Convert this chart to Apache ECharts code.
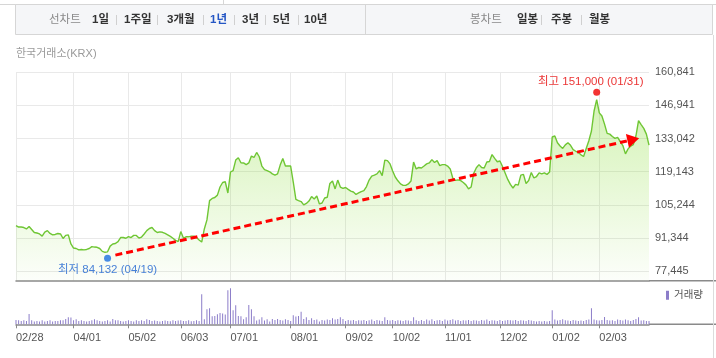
<!DOCTYPE html>
<html><head><meta charset="utf-8">
<script src="https://cdn.jsdelivr.net/npm/echarts@6.0.0/dist/echarts.min.js"></script>
<style>html,body{margin:0;padding:0;background:#fff}#c{width:716px;height:358px}</style>
</head><body><div id="c"></div>
<script>
// trading days (categories)
const d2402 = [28,29];
const d2403 = [4,5,6,7,8,11,12,13,14,15,18,19,20,21,22,25,26,27,28,29];
const d2404 = [1,2,3,4,5,8,9,11,12,15,16,17,18,19,22,23,24,25,26,29,30];
const d2405 = [2,3,7,8,9,10,13,14,16,17,20,21,22,23,24,27,28,29,30,31];
const d2406 = [3,4,5,7,10,11,12,13,14,17,18,19,20,21,24,25,26,27,28];
const d2407 = [1,2,3,4,5,8,9,10,11,12,15,16,17,18,19,22,23,24,25,26,29,30,31];
const d2408 = [1,2,5,6,7,8,9,12,13,14,16,19,20,21,22,23,26,27,28,29,30];
const d2409 = [2,3,4,5,6,9,10,11,12,13,19,20,23,24,25,26,27,30];
const d2410 = [2,4,7,8,10,11,14,15,16,17,18,21,22,23,24,25,28,29,30,31];
const d2411 = [1,4,5,6,7,8,11,12,13,14,15,18,19,20,21,22,25,26,27,28,29];
const d2412 = [2,3,4,5,6,9,10,11,12,13,16,17,18,19,20,23,24,26,27,30];
const d2501 = [2,3,6,7,8,9,10,13,14,15,16,17,20,21,22,23,24,31];
const d2502 = [3,4,5,6,7,10,11,12,13,14,17,18,19,20,21,24,25,26,27,28];

const tickDates = ['2024-02-28','2024-04-01','2024-05-02','2024-06-03','2024-07-01','2024-08-01','2024-09-02','2024-10-02','2024-11-01','2024-12-02','2025-01-02','2025-02-03'];
const yTicks = [77445, 91344, 105244, 119143, 133042, 146941, 160841];
const yMin = 73386, yMax = 160841;

const prices = [
96500,95900,95900,95700,95100,96100,94900,93600,93400,93000,
92100,93800,94400,93200,92600,92800,93200,93000,91100,92400,
92600,88800,87100,86900,86300,86500,86300,86500,86900,87700,
87500,87400,86900,85700,85300,85500,87900,88800,89000,89800,
91500,91500,91200,91900,91500,92400,92400,91300,91700,93000,
94400,95300,95700,94400,93600,93900,93700,93200,92600,92000,
91200,90300,89800,94000,91300,91800,91800,92100,92100,91500,
90500,89600,95100,98900,107000,107900,108300,109300,112700,114600,
114900,110200,119000,119600,124000,125000,122900,122800,122100,122800,
125700,125100,127200,125400,121500,120000,119600,119100,118200,117700,
118200,121900,124700,121500,121500,121500,114800,107500,107000,106600,
105200,105800,106800,108700,107700,108900,105600,106000,108100,108400,
114200,115200,111900,115600,112700,112100,112500,111700,111000,110600,
109600,110200,110800,111200,112900,115600,117300,117700,118200,119600,
117500,124000,123800,122400,119400,116900,115300,114000,113400,113400,
114000,115200,123200,120300,120900,120700,121500,122400,122800,124200,
123000,123800,121700,122100,122100,121500,120300,116400,115500,115700,
115400,114600,113600,111900,112700,118500,120800,122100,120900,120700,
123200,123400,126300,124700,123300,123600,121300,118600,115900,113800,
112300,113800,113500,117700,118000,114200,115400,118800,116500,117100,
118600,118200,118600,118000,119000,133700,134100,131300,129900,128900,
130400,131300,130200,128400,127700,127200,126200,125500,128900,132100,
136200,144600,149400,143800,142500,139100,135200,134900,133900,133100,
133500,131800,130100,126600,128700,129900,130500,134100,140600,138900,
137300,134900,130300];

const volumes = [
108,100,83,100,83,258,100,68,83,68,
100,68,83,100,68,83,83,100,100,133,
175,168,100,125,83,100,83,68,83,100,
125,100,83,68,83,100,68,133,100,100,
83,68,83,100,83,68,100,83,100,83,
125,108,83,93,83,68,83,93,83,75,
100,83,93,100,83,83,100,75,83,100,
83,750,125,375,400,200,208,250,283,268,
243,850,900,350,475,208,200,125,175,483,
375,200,93,118,175,93,125,68,133,108,
133,108,93,125,108,83,225,193,208,313,
133,175,108,150,108,118,68,108,93,118,
108,150,118,133,175,133,83,108,93,108,
83,100,93,108,83,100,118,83,108,93,
83,175,108,93,108,83,100,93,83,100,
93,83,175,100,83,108,83,118,93,125,
83,100,108,83,118,93,108,125,93,108,
83,100,93,108,83,100,93,83,108,93,
118,83,100,93,83,108,83,93,108,100,
93,108,83,100,93,83,108,93,83,68,
83,68,83,68,83,350,118,93,108,125,
100,93,83,108,93,83,93,83,108,118,
400,118,100,93,108,183,108,93,100,83,
118,108,93,118,100,83,108,133,175,93,
100,83,83];

const lowPoint = {date: '2024-04-19', value: 84132, name: '최저'};
const highPoint = {date: '2025-01-31', value: 151000, name: '최고'};
const trendStart = {date: '2024-04-24', value: 84132};
const trendEnd = {date: '2025-02-20', value: 132600};

const lineTabs = ['1일','1주일','3개월','1년','3년','5년','10년'];
const candleTabs = ['일봉','주봉','월봉'];

// build categories
const cats = [];
const pad = n => String(n).padStart(2, '0');
[['2024-02',d2402],['2024-03',d2403],['2024-04',d2404],['2024-05',d2405],['2024-06',d2406],['2024-07',d2407],['2024-08',d2408],['2024-09',d2409],['2024-10',d2410],['2024-11',d2411],['2024-12',d2412],['2025-01',d2501],['2025-02',d2502]]
  .forEach(([ym, ds]) => ds.forEach(d => cats.push(ym + '-' + pad(d))));
const tickSet = new Set(tickDates);
const showTick = (i, v) => tickSet.has(v);
const mmdd = v => v.slice(5).replace('-', '/');
const fmtNum = v => Number(v).toLocaleString('en-US');

const NUMF = '"Liberation Sans","Noto Sans CJK KR",sans-serif';
const KRF = '"Liberation Sans","Noto Sans CJK KR",sans-serif';

// top tab bar graphics
const g = [];
g.push({type:'line', shape:{x1:0,y1:4.5,x2:716,y2:4.5}, style:{stroke:'#d6d6d6',lineWidth:1}, silent:true});
g.push({type:'line', shape:{x1:223.5,y1:0,x2:223.5,y2:4.5}, style:{stroke:'#d6d6d6',lineWidth:1}, silent:true});
g.push({type:'rect', shape:{x:15.5,y:4.5,width:697,height:30}, style:{fill:'#f5f6f8',stroke:'#d6d6d6',lineWidth:1}, silent:true});
g.push({type:'line', shape:{x1:365.5,y1:4.5,x2:365.5,y2:34.5}, style:{stroke:'#d6d6d6',lineWidth:1}, silent:true});
const TY = 20;
g.push({type:'text', style:{text:'선차트', x:49, y:TY, fill:'#8a8a8a', fontSize:11.5, fontFamily:KRF, verticalAlign:'middle', align:'left'}, silent:true});
const lineTabX = [92, 124, 167, 210, 242, 273, 304];
const lineSepX = [116, 157, 203, 234, 265, 298];
lineTabs.forEach((t, i) => g.push({type:'text', style:{text:t, x:lineTabX[i], y:TY, fill: t==='1년' ? '#2456c4' : '#333', fontSize:11.5, fontWeight:'bold', fontFamily:KRF, verticalAlign:'middle', align:'left'}, silent:true}));
lineSepX.forEach(x => g.push({type:'line', shape:{x1:x+0.5,y1:TY-5,x2:x+0.5,y2:TY+5}, style:{stroke:'#d0d0d0',lineWidth:1}, silent:true}));
g.push({type:'text', style:{text:'봉차트', x:470, y:TY, fill:'#8a8a8a', fontSize:11.5, fontFamily:KRF, verticalAlign:'middle', align:'left'}, silent:true});
const candleTabX = [517, 551, 589];
const candleSepX = [541, 581];
candleTabs.forEach((t, i) => g.push({type:'text', style:{text:t, x:candleTabX[i], y:TY, fill:'#333', fontSize:11.5, fontWeight:'bold', fontFamily:KRF, verticalAlign:'middle', align:'left'}, silent:true}));
candleSepX.forEach(x => g.push({type:'line', shape:{x1:x+0.5,y1:TY-5,x2:x+0.5,y2:TY+5}, style:{stroke:'#d0d0d0',lineWidth:1}, silent:true}));
g.push({type:'text', style:{text:'한국거래소(KRX)', x:16, y:53.5, fill:'#9a9a9a', fontSize:11, fontFamily:KRF, verticalAlign:'middle', align:'left'}, silent:true});
// frame extensions
g.push({type:'line', shape:{x1:649,y1:280.7,x2:716,y2:280.7}, style:{stroke:'#8a8a8a',lineWidth:1.5}, silent:true});
g.push({type:'line', shape:{x1:649,y1:324.3,x2:716,y2:324.3}, style:{stroke:'#8a8a8a',lineWidth:1.5}, silent:true});
g.push({type:'line', shape:{x1:713.5,y1:35,x2:713.5,y2:358}, style:{stroke:'#dcdcdc',lineWidth:1}, silent:true});

const chart = echarts.init(document.getElementById('c'));
chart.setOption({
  animation: false,
  backgroundColor: '#fff',
  graphic: g,
  grid: [
    {left: 16, right: 67, top: 72.3, height: 208.4},
    {left: 16, right: 67, top: 282, height: 42.3}
  ],
  legend: {
    data: ['거래량'], left: 666, top: 290, padding: 0, icon: 'rect', itemWidth: 3, itemHeight: 9,
    textStyle: {fontSize: 10.5, color: '#555', fontFamily: KRF}, selectedMode: false
  },
  xAxis: [
    {type:'category', gridIndex:0, data:cats, boundaryGap:false,
     axisLine:{show:true, lineStyle:{color:'#8a8a8a', width:1.5}},
     axisTick:{show:false}, axisLabel:{show:false},
     splitLine:{show:true, interval:showTick, lineStyle:{color:'#e9e9e9', width:1}}},
    {type:'category', gridIndex:1, data:cats, boundaryGap:false,
     axisLine:{show:true, lineStyle:{color:'#8a8a8a', width:1.5}},
     axisTick:{show:true, interval:showTick, length:4, lineStyle:{color:'#8a8a8a'}},
     axisLabel:{show:true, interval:showTick, formatter:mmdd, align:'left', margin:8, fontSize:11, color:'#555', fontFamily:NUMF},
     splitLine:{show:false}}
  ],
  yAxis: [
    {type:'value', gridIndex:0, position:'right', min:yMin, max:yMax,
     axisLine:{show:false}, axisTick:{show:false, customValues:yTicks},
     axisLabel:{show:true, customValues:yTicks, formatter:fmtNum, margin:6, fontSize:11, color:'#555', fontFamily:NUMF},
     splitLine:{show:true, lineStyle:{color:'#e9e9e9', width:1}}},
    {type:'value', gridIndex:1, min:0, max:1057, show:false, splitLine:{show:false}}
  ],
  series: [
    {name:'가격', type:'line', xAxisIndex:0, yAxisIndex:0, data:prices, symbol:'none', smooth:false,
     lineStyle:{color:'#6fc634', width:1.4},
     areaStyle:{color:new echarts.graphic.LinearGradient(0,0,0,1,[{offset:0,color:'rgba(124,217,31,0.47)'},{offset:1,color:'rgba(124,217,31,0.03)'}])},
     markLine:{silent:true, animation:false, symbol:['none','triangle'], symbolSize:[14,12],
       lineStyle:{color:'#ff0000', width:3, type:[7,4]}, label:{show:false},
       emphasis:{disabled:true},
       data:[[{coord:[trendStart.date, trendStart.value]},{coord:[trendEnd.date, trendEnd.value]}]]}
    },
    {name:'거래량', type:'bar', xAxisIndex:1, yAxisIndex:1, data:volumes, barWidth:1,
     itemStyle:{color:'#8c7dc9'}},
    {name:'고저', type:'scatter', xAxisIndex:0, yAxisIndex:0, symbolSize:7, z:5,
     data:[
       {value:[lowPoint.date, lowPoint.value], symbolOffset:[0,3.2], itemStyle:{color:'#1a6fe0'},
        label:{show:true, position:'bottom', distance:2, color:'#1a62d0',
          formatter:() => lowPoint.name + ' ' + fmtNum(lowPoint.value) + ' (' + mmdd(lowPoint.date) + ')'}},
       {value:[highPoint.date, highPoint.value], symbolOffset:[0,-3.4], itemStyle:{color:'#f00000'},
        label:{show:true, position:'top', distance:1, offset:[-6,0], color:'#e60000',
          formatter:() => highPoint.name + ' ' + fmtNum(highPoint.value) + ' (' + mmdd(highPoint.date) + ')'}}
     ],
     label:{fontSize:11.5, fontFamily:KRF}
    }
  ]
});
</script></body></html>
